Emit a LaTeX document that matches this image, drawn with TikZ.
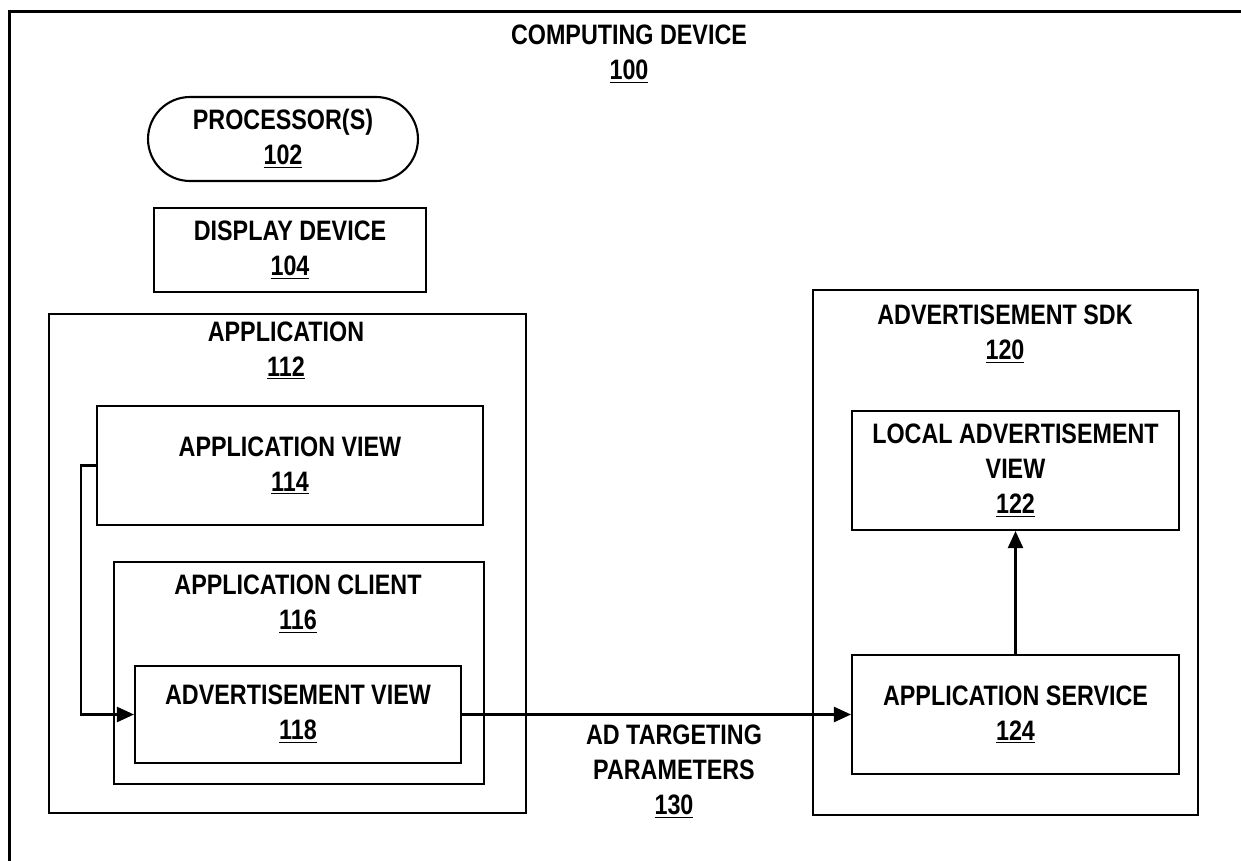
\documentclass[tikz,border=0pt]{standalone}
\usepackage{fontspec}
\setmainfont{Liberation Sans}[FakeStretch=0.83]
\usetikzlibrary{arrows.meta}

\tikzset{
    box/.style={draw, line width=1.2pt, inner sep=0pt, align=center},
    title/.style={inner sep=0pt, align=center},
    flow/.style={-{Triangle[length=0.34cm, width=0.3cm]}, line width=1.3pt}
}

\begin{document}
\begin{tikzpicture}[x=0.02cm, y=-0.02cm, font=\bfseries\fontsize{16}{19.9}\selectfont]
        \useasboundingbox (0,0) rectangle (1241,861);
        \clip (0,0) rectangle (1241,861);

        \node at (8,10)[box, line width=1.7pt, anchor=north west, minimum width=24.84cm, minimum height=17.8cm] (dev) {};
        \node at (629,54.5)[title] (devtitle) {COMPUTING DEVICE\\\underline{100}};

        \node at (283,139)[box, rounded corners=0.84cm, minimum width=5.4cm, minimum height=1.68cm] (proc) {PROCESSOR(S)\\\underline{102}};
        \node at (290,250)[box, minimum width=5.44cm, minimum height=1.68cm] (disp) {DISPLAY DEVICE\\\underline{104}};

        \node at (48,313)[box, anchor=north west, minimum width=9.54cm, minimum height=9.98cm] (app) {};
        \node at (286,350.5)[title] (apptitle) {APPLICATION\\\underline{112}};
        \node at (290,465.5)[box, minimum width=7.72cm, minimum height=2.38cm] (appview) {APPLICATION VIEW\\\underline{114}};
        \node at (113,561)[box, anchor=north west, minimum width=7.4cm, minimum height=4.44cm] (client) {};
        \node at (298,604.5)[title] (clienttitle) {APPLICATION CLIENT\\\underline{116}};
        \node at (298,714.5)[box, minimum width=6.52cm, minimum height=1.94cm] (adview) {ADVERTISEMENT VIEW\\\underline{118}};

        \node at (812,289)[box, anchor=north west, minimum width=7.7cm, minimum height=10.5cm] (sdk) {};
        \node at (1005,334.5)[title] (sdktitle) {ADVERTISEMENT SDK\\\underline{120}};
        \node at (1015.5,470.5)[box, minimum width=6.54cm, minimum height=2.38cm] (localview) {LOCAL ADVERTISEMENT\\VIEW\\\underline{122}};
        \node at (1015.5,714.5)[box, minimum width=6.54cm, minimum height=2.38cm] (appsvc) {APPLICATION SERVICE\\\underline{124}};

        \node at (674,772)[title] (params) {AD TARGETING\\PARAMETERS\\\underline{130}};

        \draw[flow] (appview.west) -- ++(-15,0) |- (adview.west);
        \draw[flow] (adview.east) -- (appsvc.west);
        \draw[flow] (appsvc.north) -- (localview.south);
    \end{tikzpicture}
\end{document}
